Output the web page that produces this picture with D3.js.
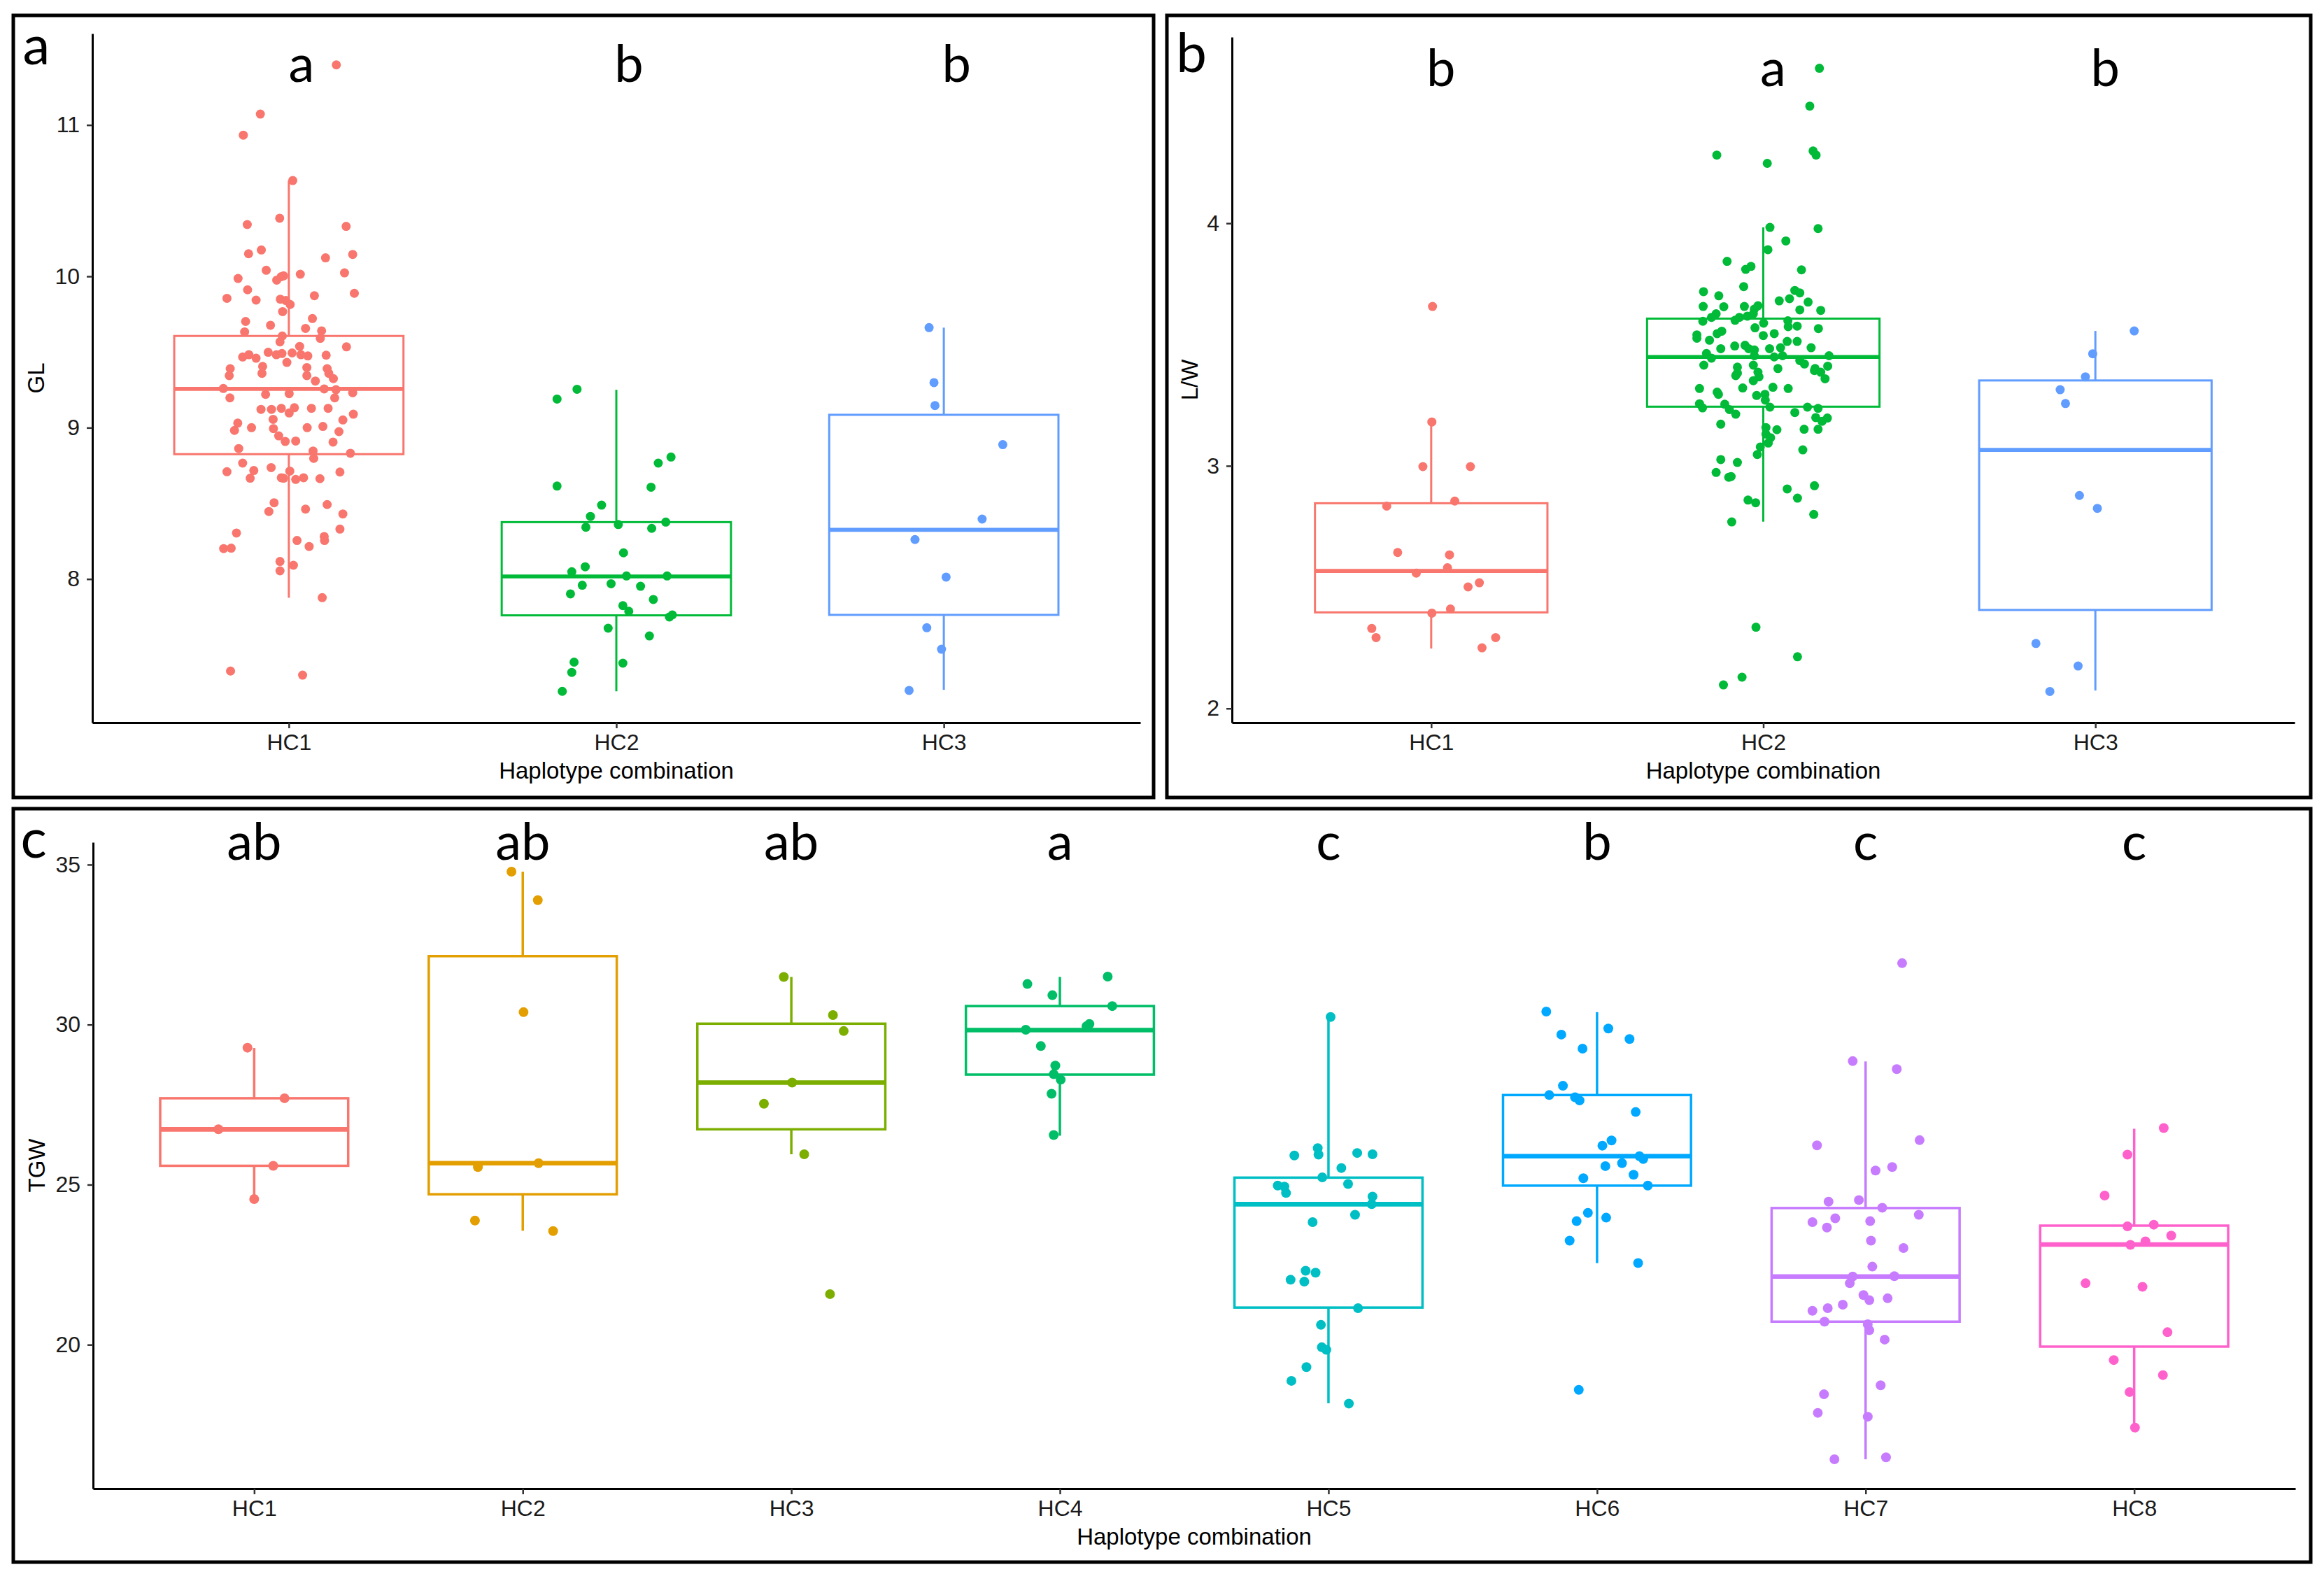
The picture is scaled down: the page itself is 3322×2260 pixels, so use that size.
<!DOCTYPE html>
<html>
<head>
<meta charset="utf-8">
<script src="https://cdn.jsdelivr.net/npm/d3@7"></script>
<style>
  body { margin: 0; background: #fff; }
  svg { display: block; }
</style>
</head>
<body>
<script>
'use strict';

// ---- data ----
// points are [value, horizontal jitter as a fraction of the category step]
var gridCats3 = ['HC1', 'HC2', 'HC3'];
var gridCats8 = ['HC1', 'HC2', 'HC3', 'HC4', 'HC5', 'HC6', 'HC7', 'HC8'];

var hue3 = ['#F8766D', '#00BA38', '#619CFF'];
var hue8 = ['#F8766D', '#E39E00', '#7CAE00', '#00BE67', '#00BFC4', '#00A9FF', '#C77CFF', '#FF61CC'];

// box stats: [lower whisker, Q1, median, Q3, upper whisker]
var glBoxes = [
  [7.876, 8.825, 9.256, 9.606, 10.633],
  [7.258, 7.760, 8.017, 8.376, 9.250],
  [7.268, 7.763, 8.325, 9.085, 9.661]
];
var lwBoxes = [
  [2.247, 2.396, 2.567, 2.846, 3.179],
  [2.770, 3.244, 3.449, 3.607, 3.983],
  [2.074, 2.406, 3.066, 3.352, 3.556]
];
var tgwBoxes = [
  [24.55, 25.59, 26.73, 27.70, 29.27],
  [23.56, 24.70, 25.67, 32.14, 34.78],
  [25.95, 26.73, 28.19, 30.03, 31.49],
  [26.53, 28.44, 29.83, 30.58, 31.49],
  [18.17, 21.16, 24.39, 25.22, 30.24],
  [22.55, 24.97, 25.89, 27.80, 30.39],
  [16.42, 20.72, 22.13, 24.27, 28.85],
  [17.42, 19.94, 23.13, 23.72, 26.75]
];

var glHC1 = [[11.397,0.145],[11.072,-0.087],[10.933,-0.139],[10.633,0.012],[10.384,-0.028],[10.342,-0.127],[10.330,0.175],[10.149,-0.123],[10.174,-0.084],[10.145,0.195],[10.122,0.112],[10.040,-0.069],[9.986,-0.155],[9.975,-0.037],[9.998,-0.023],[10.003,-0.016],[10.014,0.035],[10.023,0.170],[9.911,-0.126],[9.855,-0.189],[9.843,-0.100],[9.849,-0.026],[9.840,-0.009],[9.814,0.004],[9.872,0.078],[9.888,0.200],[9.767,-0.019],[9.702,-0.132],[9.677,-0.056],[9.721,0.072],[9.656,0.051],[9.633,-0.135],[9.640,0.100],[9.590,0.096],[9.606,-0.020],[9.567,-0.027],[9.534,0.176],[9.537,0.033],[9.467,-0.141],[9.482,-0.122],[9.459,-0.100],[9.498,-0.063],[9.482,-0.038],[9.490,-0.021],[9.494,0.010],[9.482,0.037],[9.474,0.058],[9.479,0.114],[9.431,-0.006],[9.390,-0.179],[9.405,-0.080],[9.397,0.055],[9.390,0.117],
  [9.344,-0.182],[9.359,-0.082],[9.344,0.055],[9.359,0.122],[9.324,0.136],[9.308,0.081],[9.259,-0.200],[9.220,-0.071],[9.225,0.001],[9.256,0.108],[9.251,0.144],[9.231,0.195],[9.197,0.140],[9.197,-0.180],[9.121,-0.085],[9.121,-0.053],[9.128,-0.023],[9.097,0.001],[9.132,0.017],[9.128,0.069],[9.128,0.120],[9.089,0.197],[9.051,0.165],[9.055,-0.048],[9.030,-0.156],[8.982,-0.166],[9.000,-0.114],[8.994,-0.047],[9.000,0.056],[9.008,0.104],[8.974,0.153],[8.946,-0.031],[8.909,-0.011],[8.912,0.021],[8.905,0.135],[8.862,-0.153],[8.846,0.074],[8.797,0.076],[8.831,0.188],[8.766,-0.141],[8.709,-0.189],[8.717,-0.107],[8.666,-0.118],[8.736,-0.054],[8.713,0.003],[8.669,-0.023],[8.666,-0.016],[8.658,0.021],[8.669,0.045],[8.663,0.095],[8.707,0.156],[8.504,-0.045],[8.446,-0.061],[8.462,0.051],[8.492,0.117],[8.430,0.165],[8.330,0.156],[8.304,-0.160],[8.201,-0.199],[8.204,-0.176],[8.255,0.025],[8.215,0.062],[8.281,0.108],[8.255,0.109],[8.116,-0.027],[8.054,-0.027],[8.091,0.014],[7.877,0.102],[7.392,-0.178],[7.365,0.042]];
var glHC2 = [[9.254,-0.120],[9.189,-0.181],[8.806,0.167],[8.766,0.128],[8.614,-0.181],[8.607,0.106],[8.488,-0.045],[8.414,-0.079],[8.342,-0.093],[8.360,0.006],[8.335,0.108],[8.376,0.151],[8.173,0.022],[8.081,-0.095],[8.048,-0.136],[7.959,-0.104],[7.969,-0.016],[8.020,0.031],[7.952,0.074],[8.020,0.155],[7.902,-0.140],[7.865,0.113],[7.824,0.020],[7.787,0.038],[7.749,0.162],[7.763,0.171],[7.675,-0.025],[7.624,0.101],[7.451,-0.129],[7.444,0.020],[7.383,-0.136],[7.258,-0.165]];
var glHC3 = [[9.661,-0.045],[9.298,-0.030],[9.146,-0.027],[8.888,0.180],[8.396,0.117],[8.261,-0.088],[8.013,0.007],[7.678,-0.052],[7.536,-0.007],[7.264,-0.106]];

var lwHC1 = [[3.657,0.004],[3.181,0.002],[2.997,-0.025],[2.997,0.118],[2.834,-0.134],[2.855,0.071],[2.643,-0.101],[2.633,0.055],[2.558,-0.045],[2.580,0.049],[2.518,0.145],[2.501,0.111],[2.393,0.002],[2.410,0.058],[2.330,-0.179],[2.292,-0.166],[2.292,0.194],[2.250,0.153]];
var lwHC2 = [[4.639,0.169],[4.483,0.140],[4.281,-0.140],[4.247,0.012],[4.298,0.150],[4.281,0.159],[3.983,0.020],[3.978,0.165],[3.927,0.068],[3.891,0.014],[3.843,-0.109],[3.810,-0.053],[3.822,-0.037],[3.808,0.115],[3.739,-0.059],[3.718,-0.180],[3.701,-0.134],[3.723,0.095],[3.713,0.110],[3.689,0.079],[3.680,0.048],[3.675,0.135],[3.657,-0.181],[3.656,-0.119],[3.657,-0.057],[3.660,-0.016],[3.646,-0.027],[3.643,0.110],[3.641,0.173],[3.627,-0.142],[3.612,-0.156],[3.596,-0.182],[3.600,-0.085],[3.612,-0.072],[3.617,-0.048],[3.627,-0.030],[3.588,0.001],[3.598,0.074],[3.574,0.075],[3.576,0.102],[3.566,0.166],[3.569,-0.025],[3.540,-0.200],[3.526,-0.200],[3.545,-0.139],[3.555,-0.125],[3.545,0.033],[3.537,0.000],[3.518,-0.162],[3.513,0.072],[3.513,0.102],[3.483,-0.128],[3.494,-0.086],[3.497,-0.055],[3.483,-0.044],[3.478,-0.027],[3.483,0.019],[3.487,0.052],[3.487,0.144],[3.463,-0.171],[3.444,-0.156],[3.454,-0.027],[3.449,0.033],[3.454,0.058],[3.454,0.198],[3.434,0.110],[3.415,-0.179],[3.407,-0.078],[3.415,-0.030],[3.401,0.044],[3.420,0.124],[3.401,0.156],[3.411,0.194],
  [3.382,-0.078],[3.372,-0.083],[3.386,-0.016],[3.367,-0.013],[3.351,-0.030],[3.393,0.154],[3.386,0.173],[3.359,0.186],[3.319,-0.192],[3.304,-0.139],[3.295,-0.135],[3.321,-0.062],[3.324,0.029],[3.319,0.075],[3.290,-0.020],[3.295,0.005],[3.271,0.006],[3.256,-0.192],[3.239,-0.183],[3.254,-0.116],[3.232,-0.102],[3.213,-0.083],[3.242,0.020],[3.220,0.095],[3.242,0.133],[3.237,0.165],[3.199,0.158],[3.197,0.193],[3.184,0.177],[3.172,-0.128],[3.158,0.008],[3.149,0.041],[3.151,0.123],[3.151,0.165],[3.131,0.008],[3.116,0.022],[3.094,0.015],[3.078,-0.009],[3.047,-0.018],[3.066,0.119],[3.026,-0.128],[3.014,-0.078],[2.973,-0.142],[2.953,-0.104],[2.956,-0.097],[2.905,0.072],[2.918,0.154],[2.867,0.103],[2.859,-0.046],[2.848,-0.023],[2.800,0.152],[2.769,-0.095],[2.335,-0.022],[2.213,0.103],[2.129,-0.064],[2.097,-0.120]];
var lwHC3 = [[3.556,0.117],[3.462,-0.008],[3.367,-0.030],[3.314,-0.106],[3.257,-0.090],[2.878,-0.048],[2.825,0.006],[2.268,-0.179],[2.175,-0.052],[2.070,-0.137]];

var tgwHC1 = [[29.28,-0.025],[27.70,0.113],[26.73,-0.133],[25.59,0.071],[24.55,0.000]];
var tgwHC2 = [[34.78,-0.042],[33.89,0.056],[30.39,0.003],[25.55,-0.167],[25.67,0.059],[23.88,-0.178],[23.55,0.113]];
var tgwHC3 = [[31.49,-0.028],[30.30,0.155],[29.80,0.195],[28.19,0.003],[27.53,-0.102],[25.95,0.048],[21.58,0.144]];
var tgwHC4 = [[31.27,-0.121],[31.50,0.178],[30.92,-0.028],[30.58,0.195],[29.84,-0.127],[29.95,0.099],[30.02,0.110],[29.33,-0.071],[28.72,-0.017],[28.45,-0.023],[28.28,0.003],[27.84,-0.031],[26.55,-0.023]];
var tgwHC5 = [[30.24,0.008],[25.91,-0.127],[26.14,-0.040],[25.94,-0.037],[25.99,0.107],[25.95,0.164],[25.52,0.048],[25.23,-0.023],[24.97,-0.189],[24.94,-0.164],[24.74,-0.158],[25.02,0.073],[24.63,0.164],[24.39,0.161],[24.06,0.099],[23.83,-0.059],[22.31,-0.085],[22.25,-0.048],[22.03,-0.141],[21.97,-0.090],[21.14,0.110],[20.62,-0.028],[19.92,-0.025],[19.84,-0.008],[19.30,-0.082],[18.87,-0.138],[18.16,0.076]];
var tgwHC6 = [[30.41,-0.189],[29.69,-0.133],[29.88,0.042],[29.55,0.121],[29.25,-0.054],[28.09,-0.127],[27.80,-0.178],[27.73,-0.082],[27.63,-0.065],[27.27,0.144],[26.38,0.054],[26.22,0.020],[25.89,0.158],[25.80,0.172],[25.67,0.093],[25.58,0.031],[25.20,-0.051],[25.31,0.136],[24.97,0.189],[24.12,-0.034],[23.86,-0.076],[23.97,0.034],[23.25,-0.102],[22.55,0.153],[18.59,-0.068]];
var tgwHC7 = [[31.92,0.136],[28.86,-0.048],[28.61,0.116],[26.23,-0.181],[26.39,0.201],[25.44,0.037],[25.55,0.099],[24.47,-0.138],[24.52,-0.025],[24.28,0.062],[23.83,-0.198],[23.95,-0.113],[23.86,0.017],[24.06,0.198],[23.66,-0.144],[23.25,0.020],[23.02,0.141],[22.44,0.025],[22.13,-0.048],[22.14,0.107],[21.92,-0.059],[21.55,-0.008],[21.39,0.014],[21.45,0.082],[21.25,-0.085],[21.14,-0.141],[21.06,-0.198],[20.72,-0.153],[20.64,0.008],[20.45,0.014],[20.16,0.071],[18.73,0.056],[18.45,-0.155],[17.87,-0.178],[17.75,0.008],[16.42,-0.116],[16.48,0.076]];
var tgwHC8 = [[26.77,0.110],[25.94,-0.025],[24.66,-0.110],[23.70,-0.025],[23.75,0.073],[23.41,0.138],[23.23,0.042],[23.12,-0.014],[21.92,-0.181],[21.81,0.031],[20.39,0.124],[19.52,-0.076],[19.05,0.107],[18.52,-0.017],[17.41,0.003]];

var glTicks = [8, 9, 10, 11];
var lwTicks = [2, 3, 4];
var tgwTicks = [20, 25, 30, 35];

var glLetters = ['a', 'b', 'b'];
var lwLetters = ['b', 'a', 'b'];
var tgwLetters = ['ab', 'ab', 'ab', 'a', 'c', 'b', 'c', 'c'];

// ---- drawing ----
var W = 3322, H = 2260;
var letterFont = 'Lato, "Open Sans", sans-serif';
var axisFont = '"Liberation Sans", Arial, sans-serif';

var svg = d3.select('body').append('svg')
  .attr('width', W)
  .attr('height', H)
  .style('background', '#fff');

function drawPanel(p) {
  var g = svg.append('g');

  // frame round the panel
  g.append('rect')
    .attr('x', p.frame[0]).attr('y', p.frame[1])
    .attr('width', p.frame[2] - p.frame[0])
    .attr('height', p.frame[3] - p.frame[1])
    .attr('fill', 'none')
    .attr('stroke', '#000')
    .attr('stroke-width', 5);

  var all = [];
  p.series.forEach(function (s) { s.forEach(function (d) { all.push(d[0]); }); });
  var lo = d3.min(all), hi = d3.max(all), pad = (hi - lo) * 0.05;

  var y = d3.scaleLinear().domain([lo - pad, hi + pad]).range([p.y1, p.y0]);
  var x = d3.scalePoint().domain(p.cats).range([p.x0, p.x1]).padding(0.6);
  var step = x.step();
  var half = step * 0.35;

  // boxes
  var boxes = g.selectAll('g.box')
    .data(p.boxes)
    .enter().append('g')
      .attr('class', 'box')
      .attr('stroke', function (d, i) { return p.colors[i]; })
      .attr('fill', 'none');

  boxes.append('line')
    .attr('x1', function (d, i) { return x(p.cats[i]); })
    .attr('x2', function (d, i) { return x(p.cats[i]); })
    .attr('y1', function (d) { return y(d[3]); })
    .attr('y2', function (d) { return y(d[4]); })
    .attr('stroke-width', p.lw);
  boxes.append('line')
    .attr('x1', function (d, i) { return x(p.cats[i]); })
    .attr('x2', function (d, i) { return x(p.cats[i]); })
    .attr('y1', function (d) { return y(d[1]); })
    .attr('y2', function (d) { return y(d[0]); })
    .attr('stroke-width', p.lw);
  boxes.append('rect')
    .attr('x', function (d, i) { return x(p.cats[i]) - half; })
    .attr('width', half * 2)
    .attr('y', function (d) { return y(d[3]); })
    .attr('height', function (d) { return y(d[1]) - y(d[3]); })
    .attr('fill', '#fff')
    .attr('stroke-width', p.lw);
  boxes.append('line')
    .attr('x1', function (d, i) { return x(p.cats[i]) - half; })
    .attr('x2', function (d, i) { return x(p.cats[i]) + half; })
    .attr('y1', function (d) { return y(d[2]); })
    .attr('y2', function (d) { return y(d[2]); })
    .attr('stroke-width', p.lw * 1.9);

  // jittered points
  p.series.forEach(function (s, i) {
    g.append('g').selectAll('circle')
      .data(s)
      .enter().append('circle')
        .attr('cx', function (d) { return x(p.cats[i]) + d[1] * step; })
        .attr('cy', function (d) { return y(d[0]); })
        .attr('r', p.r)
        .attr('fill', p.colors[i]);
  });

  // axes
  var ax = g.append('g')
    .attr('transform', 'translate(0,' + p.y1 + ')')
    .call(d3.axisBottom(x).tickSize(8).tickSizeOuter(0).tickPadding(8));
  var ay = g.append('g')
    .attr('transform', 'translate(' + p.x0 + ',0)')
    .call(d3.axisLeft(y).tickValues(p.ticks).tickFormat(d3.format('d'))
      .tickSize(8).tickSizeOuter(0).tickPadding(10));
  [ax, ay].forEach(function (a) {
    a.select('.domain').attr('stroke', '#000').attr('stroke-width', 3);
    a.selectAll('.tick line').attr('stroke', '#333').attr('stroke-width', 2.5);
    a.selectAll('.tick text')
      .attr('fill', '#1a1a1a')
      .style('font-family', axisFont)
      .style('font-size', '32px');
  });
  ax.selectAll('.tick text').attr('dy', '0.71em');

  // axis titles
  g.append('text')
    .attr('x', (p.x0 + p.x1) / 2)
    .attr('y', p.y1 + 80)
    .attr('text-anchor', 'middle')
    .style('font-family', axisFont)
    .style('font-size', '33px')
    .text('Haplotype combination');
  g.append('text')
    .attr('transform', 'translate(' + p.yTitleX + ',' + ((p.y0 + p.y1) / 2) + ') rotate(-90)')
    .attr('text-anchor', 'middle')
    .attr('dy', '0.35em')
    .style('font-family', axisFont)
    .style('font-size', '33px')
    .text(p.yTitle);

  // significance letters
  g.selectAll('text.sig')
    .data(p.letters)
    .enter().append('text')
      .attr('class', 'sig')
      .attr('x', function (d, i) { return x(p.cats[i]) + p.letterDx; })
      .attr('y', p.letterY)
      .attr('text-anchor', 'middle')
      .style('font-family', letterFont)
      .style('font-size', '74px')
      .text(function (d) { return d; });

  // panel label
  g.append('text')
    .attr('x', p.label[1])
    .attr('y', p.label[2])
    .attr('text-anchor', 'middle')
    .style('font-family', letterFont)
    .style('font-size', '78px')
    .text(p.label[0]);
}

drawPanel({
  frame: [19, 22, 1649, 1140],
  x0: 132, x1: 1630, y0: 48, y1: 1033,
  cats: gridCats3, colors: hue3,
  boxes: glBoxes, series: [glHC1, glHC2, glHC3],
  ticks: glTicks, yTitle: 'GL', yTitleX: 51,
  letters: glLetters, letterY: 117, letterDx: 18,
  label: ['a', 52, 92], lw: 3, r: 6.5
});

drawPanel({
  frame: [1668, 22, 3303, 1140],
  x0: 1761, x1: 3280, y0: 53, y1: 1033,
  cats: gridCats3, colors: hue3,
  boxes: lwBoxes, series: [lwHC1, lwHC2, lwHC3],
  ticks: lwTicks, yTitle: 'L/W', yTitleX: 1700,
  letters: lwLetters, letterY: 123, letterDx: 14,
  label: ['b', 1703, 103], lw: 3, r: 6.5
});

drawPanel({
  frame: [19, 1156, 3303, 2233],
  x0: 133, x1: 3281, y0: 1204, y1: 2128,
  cats: gridCats8, colors: hue8,
  boxes: tgwBoxes, series: [tgwHC1, tgwHC2, tgwHC3, tgwHC4, tgwHC5, tgwHC6, tgwHC7, tgwHC8],
  ticks: tgwTicks, yTitle: 'TGW', yTitleX: 52,
  letters: tgwLetters, letterY: 1229, letterDx: 0,
  label: ['c', 48, 1226], lw: 3.5, r: 7
});
</script>
</body>
</html>
